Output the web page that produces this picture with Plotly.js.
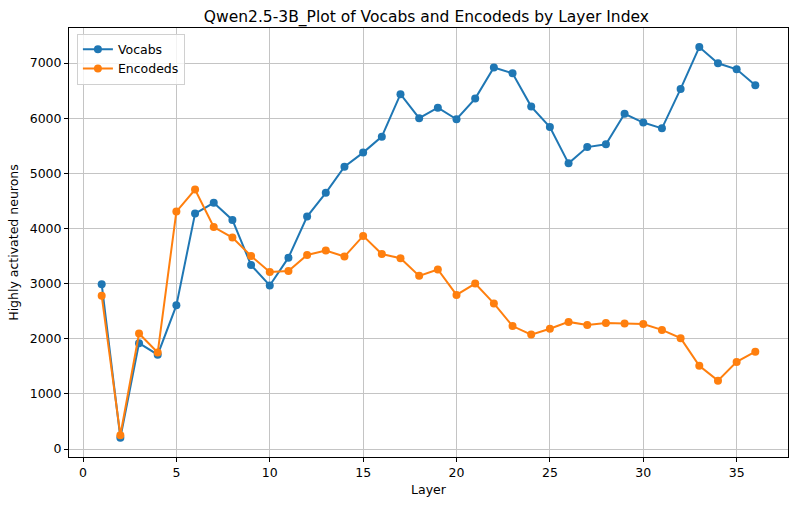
<!DOCTYPE html>
<html>
<head>
<meta charset="utf-8">
<script src="https://cdn.plot.ly/plotly-3.0.1.min.js"></script>
<style>html,body{margin:0;padding:0;background:#fff}#chart{width:797px;height:506px}</style>
</head>
<body>
<div id="chart"></div>
<script>
const layers = [1,2,3,4,5,6,7,8,9,10,11,12,13,14,15,16,17,18,19,20,21,22,23,24,25,26,27,28,29,30,31,32,33,34,35,36];
const vocabs = [2990,205,1920,1710,2605,4270,4465,4155,3335,2965,3470,4215,4645,5120,5375,5665,6435,6000,6190,5980,6355,6920,6815,6210,5840,5180,5475,5525,6080,5920,5815,6530,7290,6995,6885,6595];
const encodeds = [2780,250,2095,1750,4305,4705,4025,3835,3500,3210,3230,3520,3600,3490,3865,3535,3460,3140,3255,2795,3000,2640,2230,2075,2180,2305,2250,2285,2275,2265,2160,2010,1510,1240,1580,1765];
const seriesNames = ["Vocabs", "Encodeds"];
const titleText = "Qwen2.5-3B_Plot of Vocabs and Encodeds by Layer Index";
const xLabel = "Layer";
const yLabel = "Highly activated neurons";

const font = "DejaVu Sans, sans-serif";
const traces = [
  {x: layers, y: vocabs, name: seriesNames[0], type: "scatter", mode: "lines+markers",
   line: {color: "#1f77b4", width: 2}, marker: {color: "#1f77b4", size: 8}},
  {x: layers, y: encodeds, name: seriesNames[1], type: "scatter", mode: "lines+markers",
   line: {color: "#ff7f0e", width: 2}, marker: {color: "#ff7f0e", size: 8}}
];
const axisCommon = {
  showline: true, mirror: true, linecolor: "#000", linewidth: 1,
  ticks: "outside", ticklen: 4, tickcolor: "#000", tickwidth: 1,
  showgrid: true, gridcolor: "#c4c4c4", gridwidth: 1, zeroline: false,
  tickfont: {family: font, size: 12.5, color: "#000"}
};
const layout = {
  width: 797, height: 506,
  margin: {l: 69, r: 9, t: 28, b: 49},
  paper_bgcolor: "#fff", plot_bgcolor: "#fff",
  font: {family: font, color: "#000"},
  title: {text: titleText, font: {family: font, size: 15.5, color: "#000"}, x: 0.535, xanchor: "center", y: 0.968, yanchor: "middle"},
  xaxis: Object.assign({}, axisCommon, {range: [-0.75, 37.75], tick0: 0, dtick: 5,
    title: {text: xLabel, font: {family: font, size: 12.5}, standoff: 6}}),
  yaxis: Object.assign({}, axisCommon, {range: [-145, 7635], tick0: 0, dtick: 1000,
    title: {text: yLabel, font: {family: font, size: 12.5}, standoff: 8}}),
  showlegend: true,
  legend: {x: 0.011, y: 0.987, xanchor: "left", yanchor: "top",
    bgcolor: "rgba(255,255,255,0.8)", bordercolor: "#d0d0d0", borderwidth: 1,
    font: {family: font, size: 12.5, color: "#000"}, tracegroupgap: 0, itemwidth: 30}
};
Plotly.newPlot("chart", traces, layout, {displayModeBar: false, staticPlot: true});
</script>
</body>
</html>
